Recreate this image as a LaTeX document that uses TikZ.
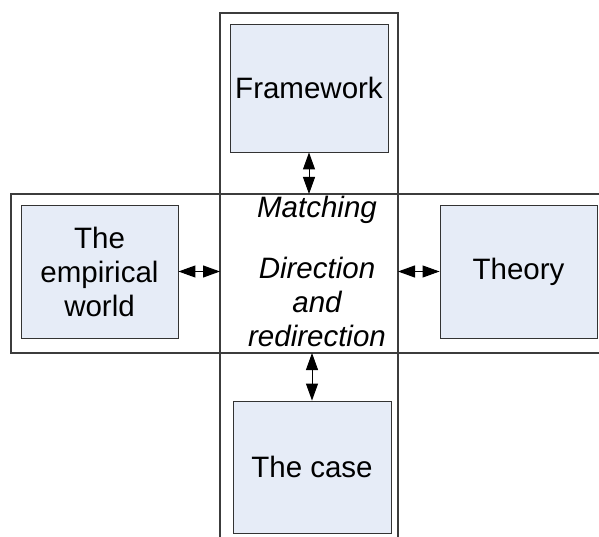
\documentclass[tikz,border=0pt]{standalone}
\usepackage{fontspec}
\setmainfont{Liberation Sans}
\usetikzlibrary{arrows.meta, positioning, calc}

\definecolor{boxfill}{RGB}{230,236,247}
\definecolor{framegray}{RGB}{60,60,60}

\begin{document}
\begin{tikzpicture}[
        x=1pt, y=1pt,
        every node/.style={font=\fontsize{29.5}{34}\selectfont},
        frame/.style={draw=framegray, line width=1.2pt},
        block/.style={rectangle, draw=black!80, line width=0.9pt, fill=boxfill, align=center, inner sep=0pt},
        link/.style={{Triangle[length=17pt,width=12pt]}-{Triangle[length=17pt,width=12pt]}, line width=1pt, black}
    ]
    \useasboundingbox (0,0) rectangle (599,536);

    % the two crossing frames
    \draw[frame] (220,-10) rectangle (398,523);
    \draw[frame] (11,183) rectangle (610,342);

    \node[block, minimum width=158, minimum height=128] (framework) at (309,448) {Framework};
    \node[block, minimum width=157, minimum height=133] (world) at (99.5,264.5) {The\\empirical\\world};
    \node[block, minimum width=157, minimum height=133] (theory) at (518.5,264.5) {Theory};
    \node[block, minimum width=158, minimum height=132] (case) at (312,69) {The case};

    \node[anchor=base, font=\fontsize{29.5}{34}\selectfont\itshape] (matching) at (317,318) {Matching};
    \node[anchor=north, align=center, inner sep=0pt, font=\fontsize{29.5}{34}\selectfont\itshape] (direction) at (317,279) {Direction\\and\\redirection};

    \coordinate (top) at (framework.south |- 0,342);
    \coordinate (bottom) at (case.north |- 0,183);
    \coordinate (left) at (220,264.5);
    \coordinate (right) at (398,264.5);

    \draw[link] (framework.south) -- (top);
    \draw[link] (bottom) -- (case.north);
    \draw[link] (world.east) -- (left);
    \draw[link] (right) -- (theory.west);

\end{tikzpicture}
\end{document}
